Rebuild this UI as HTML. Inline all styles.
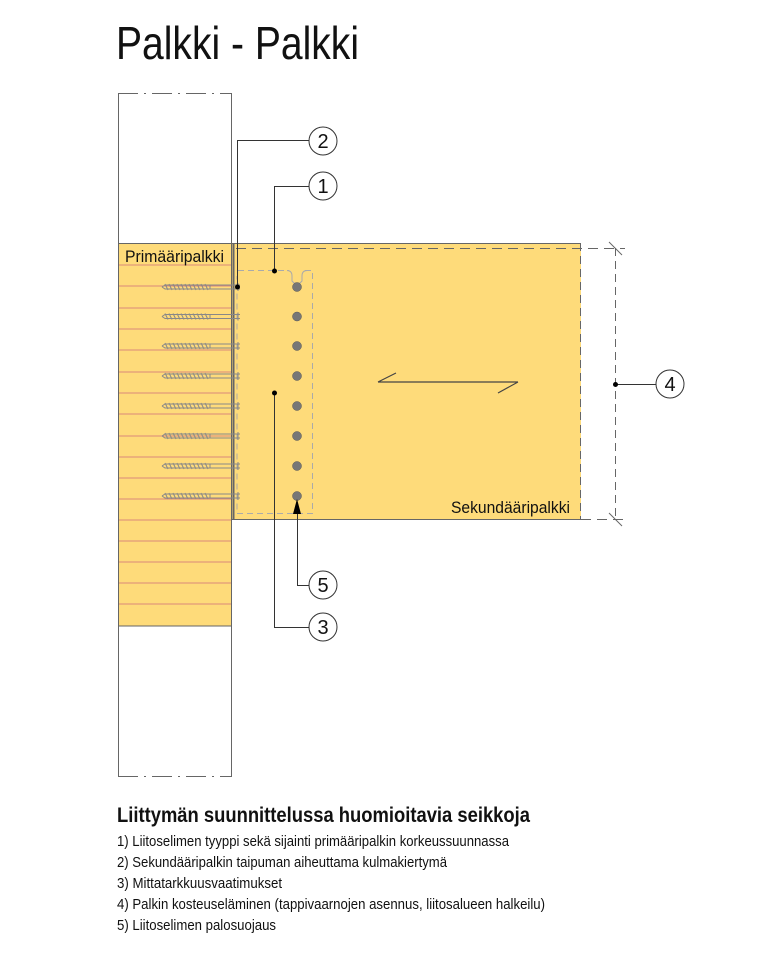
<!DOCTYPE html>
<html><head><meta charset="utf-8"><style>html,body{margin:0;padding:0;background:#fff}svg{display:block}</style></head>
<body>
<svg width="768" height="960" viewBox="0 0 768 960" xmlns="http://www.w3.org/2000/svg" font-family="Liberation Sans, sans-serif">
<text x="116" y="59" font-size="46" textLength="243" lengthAdjust="spacingAndGlyphs" fill="#111">Palkki - Palkki</text>
<rect x="118" y="243" width="114" height="383" fill="#FEDB7A"/>
<g stroke="#d9897a" stroke-width="1">
<line x1="118" y1="265" x2="231" y2="265"/><line x1="118" y1="286" x2="231" y2="286"/><line x1="118" y1="308" x2="231" y2="308"/><line x1="118" y1="329" x2="231" y2="329"/><line x1="118" y1="350" x2="231" y2="350"/><line x1="118" y1="372" x2="231" y2="372"/><line x1="118" y1="393" x2="231" y2="393"/><line x1="118" y1="414" x2="231" y2="414"/><line x1="118" y1="436" x2="231" y2="436"/><line x1="118" y1="457" x2="231" y2="457"/><line x1="118" y1="478" x2="231" y2="478"/><line x1="118" y1="499" x2="231" y2="499"/><line x1="118" y1="520" x2="231" y2="520"/><line x1="118" y1="541" x2="231" y2="541"/><line x1="118" y1="562" x2="231" y2="562"/><line x1="118" y1="583" x2="231" y2="583"/><line x1="118" y1="604" x2="231" y2="604"/>
</g>
<g stroke="#666" stroke-width="1" fill="none">
<line x1="118.5" y1="93" x2="118.5" y2="777"/>
<line x1="231.5" y1="93" x2="231.5" y2="777"/>
<line x1="118" y1="243.5" x2="232" y2="243.5"/>
<line x1="118" y1="626" x2="232" y2="626"/>
<line x1="118" y1="93.5" x2="232" y2="93.5" stroke-dasharray="20 6 2 6"/>
<line x1="118" y1="776.5" x2="232" y2="776.5" stroke-dasharray="20 6 2 6"/>
</g>
<rect x="232" y="243" width="349" height="277" fill="#FEDB7A"/>
<g stroke="#666" fill="none">
<line x1="232" y1="243.5" x2="581" y2="243.5"/>
<line x1="232" y1="519.5" x2="581" y2="519.5"/>
<line x1="233.5" y1="243" x2="233.5" y2="520" stroke-width="2"/>
<line x1="580.5" y1="243" x2="580.5" y2="520" stroke-dasharray="8 5"/>
<line x1="236" y1="248.5" x2="625" y2="248.5" stroke-dasharray="10 6"/>
<line x1="581" y1="519.5" x2="625" y2="519.5" stroke-dasharray="10 6"/>
<line x1="615.5" y1="248" x2="615.5" y2="520" stroke-dasharray="8 5"/>
<line x1="609" y1="242" x2="622" y2="255"/>
<line x1="609" y1="513" x2="622" y2="526"/>
<path d="M238 270.5 H289 M305 270.5 H312.5 V513.5 H237 V276" stroke="#aaa" stroke-dasharray="6 4"/>
<path d="M287 270.5 Q292 270.5 292 276 V281 Q297 287 302 281 V276 Q302 270.5 307 270.5" stroke="#aaa"/>
<path d="M378 382 H518 M378 382 L396 373 M518 382 L498 393" stroke="#444" stroke-width="1.2"/>
</g>
<text x="451" y="513" font-size="17" textLength="119" lengthAdjust="spacingAndGlyphs" fill="#111">Sekundääripalkki</text>
<text x="125" y="262" font-size="17" textLength="99" lengthAdjust="spacingAndGlyphs" fill="#111">Primääripalkki</text>
<g stroke="#888" stroke-width="1" fill="none">
<g id="s"><path d="M162 287 L165 285 H240 M162 287 L165 289 H240 M210 285.5 V288.5 M238 283 V291"/><path d="M165 284 L168 290 M169 284 L172 290 M173 284 L176 290 M177 284 L180 290 M181 284 L184 290 M185 284 L188 290 M189 284 L192 290 M193 284 L196 290 M197 284 L200 290 M201 284 L204 290 M205 284 L208 290"/></g>
<use href="#s" y="29.5"/><use href="#s" y="59"/><use href="#s" y="89"/><use href="#s" y="119"/><use href="#s" y="149"/><use href="#s" y="179"/><use href="#s" y="209"/>
</g>
<g fill="#777" stroke="#555" stroke-width="0.5">
<circle cx="297" cy="287" r="4.5"/><circle cx="297" cy="316.5" r="4.5"/><circle cx="297" cy="346" r="4.5"/><circle cx="297" cy="376" r="4.5"/><circle cx="297" cy="406" r="4.5"/><circle cx="297" cy="436" r="4.5"/><circle cx="297" cy="466" r="4.5"/><circle cx="297" cy="496" r="4.5"/>
</g>
<g stroke="#333" stroke-width="1" fill="none">
<path d="M237.5 287 V140.5 H309"/>
<path d="M274.5 271 V186.5 H309"/>
<path d="M274.5 393 V627.5 H309"/>
<path d="M297.5 512 V585.5 H309"/>
<path d="M615 384.5 H656"/>
</g>
<g fill="#000"><circle cx="237.5" cy="287" r="2.5"/><circle cx="274.5" cy="271" r="2.5"/><circle cx="274.5" cy="393" r="2.5"/><circle cx="615.5" cy="384.5" r="2.5"/>
<path d="M297 499 L293 514 H301 Z"/></g>
<g fill="#fff" stroke="#333" stroke-width="1">
<circle cx="323" cy="141" r="14"/><circle cx="323" cy="186" r="14"/><circle cx="323" cy="627" r="14"/><circle cx="323" cy="585" r="14"/><circle cx="670" cy="384" r="14"/>
</g>
<g font-size="20" text-anchor="middle" fill="#111">
<text x="323" y="148">2</text><text x="323" y="193">1</text><text x="323" y="634">3</text><text x="323" y="592">5</text><text x="670" y="391">4</text>
</g>
<text x="117" y="822" font-size="21" font-weight="bold" textLength="413" lengthAdjust="spacingAndGlyphs" fill="#111">Liittymän suunnittelussa huomioitavia seikkoja</text>
<g font-size="15" fill="#111">
<text x="117" y="846" textLength="392" lengthAdjust="spacingAndGlyphs">1) Liitoselimen tyyppi sekä sijainti primääripalkin korkeussuunnassa</text>
<text x="117" y="867" textLength="330" lengthAdjust="spacingAndGlyphs">2) Sekundääripalkin taipuman aiheuttama kulmakiertymä</text>
<text x="117" y="888" textLength="165" lengthAdjust="spacingAndGlyphs">3) Mittatarkkuusvaatimukset</text>
<text x="117" y="909" textLength="428" lengthAdjust="spacingAndGlyphs">4) Palkin kosteuseläminen (tappivaarnojen asennus, liitosalueen halkeilu)</text>
<text x="117" y="930" textLength="159" lengthAdjust="spacingAndGlyphs">5) Liitoselimen palosuojaus</text>
</g>
</svg>
</body></html>
